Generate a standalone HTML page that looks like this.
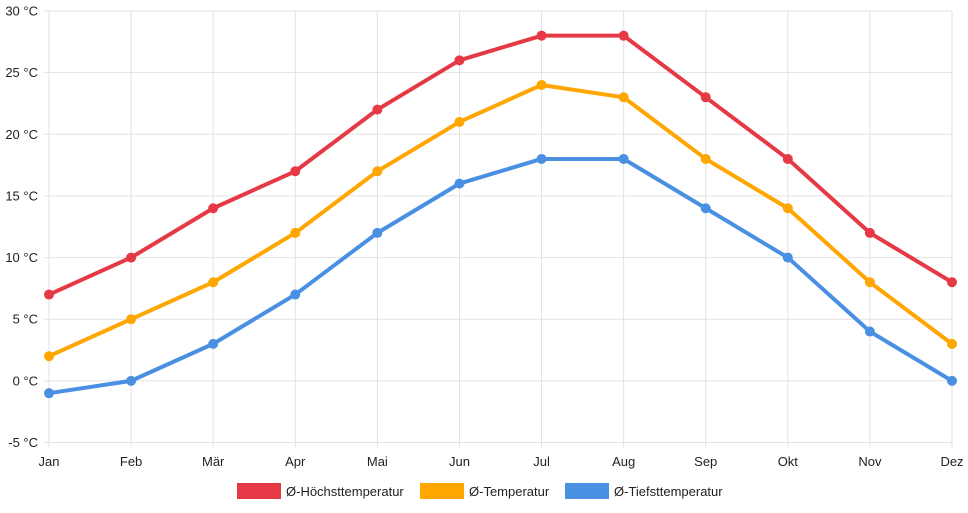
<!DOCTYPE html>
<html><head><meta charset="utf-8"><style>
body{margin:0;background:#fff;font-family:"Liberation Sans",sans-serif}
svg text{font-family:"Liberation Sans",sans-serif;font-size:13px;fill:#222}
</style></head><body>
<svg id="c" width="968" height="508"></svg>
<script>
const months=["Jan","Feb","Mär","Apr","Mai","Jun","Jul","Aug","Sep","Okt","Nov","Dez"];
const highs=[7,10,14,17,22,26,28,28,23,18,12,8];
const means=[2,5,8,12,17,21,24,23,18,14,8,3];
const lows=[-1,0,3,7,12,16,18,18,14,10,4,0];
const yTicks=[-5,0,5,10,15,20,25,30];
const seriesNames=["Ø-Höchsttemperatur","Ø-Temperatur","Ø-Tiefsttemperatur"];
const NS="http://www.w3.org/2000/svg";
const svg=document.getElementById('c');
const x0=49,x1=952,yMin=-5,yMax=30,yTop=11,yBot=442.5;
const X=i=>x0+(x1-x0)*i/(months.length-1);
const Y=v=>yBot-(v-yMin)/(yMax-yMin)*(yBot-yTop);
function mk(t,a){const e=document.createElementNS(NS,t);for(const k in a)e.setAttribute(k,a[k]);svg.appendChild(e);return e;}
yTicks.forEach(v=>{
  const l=mk('line',{x1:x0-5,x2:x1,y1:Y(v),y2:Y(v),stroke:'#e2e2e2','stroke-width':1});
  
  
  const t=mk('text',{x:38,y:Y(v)+4.5,'text-anchor':'end'});t.textContent=v+' °C';
  
  
});
months.forEach((m,i)=>{
  const l=mk('line',{x1:X(i),x2:X(i),y1:yTop,y2:yBot+5,stroke:'#e2e2e2','stroke-width':1});
  
  
  const t=mk('text',{x:X(i),y:466,'text-anchor':'middle'});t.textContent=m;
  
  
});
const sets=[[highs,'#e63946'],[means,'#ffa600'],[lows,'#4a90e2']];
sets.forEach(([d,c],si)=>{
  const p=mk('polyline',{points:d.map((v,i)=>X(i)+','+Y(v)).join(' '),fill:'none',stroke:c,'stroke-width':4,'stroke-linejoin':'round'});
  
  
  d.forEach((v,i)=>{
    const ci=mk('circle',{cx:X(i),cy:Y(v),r:5,fill:c});
    
    
  });
});
const lx=[237,420,565];
sets.forEach(([d,c],si)=>{
  const r=mk('rect',{x:lx[si],y:483,width:44,height:16,fill:c});
  
  
  const t=mk('text',{x:lx[si]+49,y:496});t.textContent=seriesNames[si];
  
  
});
</script>
</body></html>
